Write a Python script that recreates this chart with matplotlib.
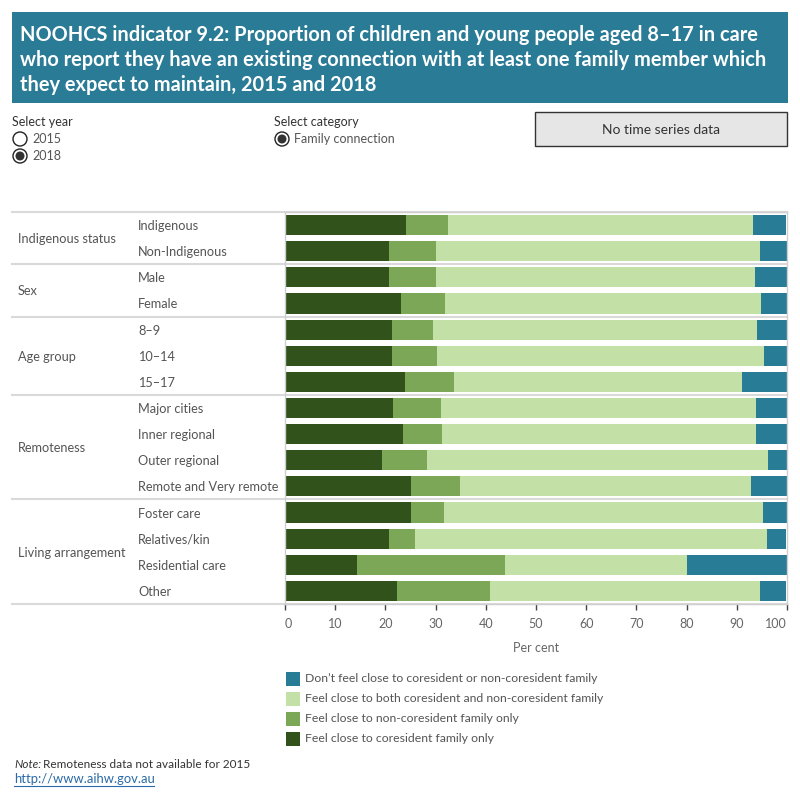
import matplotlib
matplotlib.use("Agg")
import matplotlib.pyplot as plt
from matplotlib.patches import Rectangle, Circle
import numpy as np

plt.rcParams['font.family'] = ['Lato', 'DejaVu Sans']

# data (2018, per cent)
groups = ['Indigenous status', 'Sex', 'Age group', 'Remoteness', 'Living arrangement']
group_sizes = [2, 2, 3, 4, 4]
subgroups = ['Indigenous', 'Non-Indigenous', 'Male', 'Female', '8–9', '10–14', '15–17',
             'Major cities', 'Inner regional', 'Outer regional', 'Remote and Very remote',
             'Foster care', 'Relatives/kin', 'Residential care', 'Other']
coresident_only = [24.2, 20.8, 20.8, 23.2, 21.4, 21.4, 23.9, 21.6, 23.6, 19.4, 25.0, 25.0, 20.8, 14.4, 22.4]
noncoresident_only = [8.3, 9.3, 9.3, 8.7, 8.1, 8.9, 9.8, 9.5, 7.7, 8.9, 9.9, 6.7, 5.1, 29.5, 18.5]
both = [60.7, 64.5, 63.5, 62.9, 64.5, 65.1, 57.3, 62.7, 62.5, 67.9, 57.9, 63.5, 70.1, 36.2, 53.7]
not_close = [6.6, 5.4, 6.4, 5.2, 6.0, 4.6, 9.0, 6.2, 6.2, 3.8, 7.2, 4.8, 3.8, 19.9, 5.2]

series = [coresident_only, noncoresident_only, both, not_close]
colors = ['#31521b', '#7ca757', '#c3e1a7', '#287c96']
legend_labels = ["Don\u2019t feel close to coresident or non-coresident family",
                 'Feel close to both coresident and non-coresident family',
                 'Feel close to non-coresident family only',
                 'Feel close to coresident family only']
legend_colors = ['#287c96', '#c3e1a7', '#7ca757', '#31521b']

W = H = 800
fig = plt.figure(figsize=(8, 8), dpi=100)

# background axes in pixel coordinates
bg = fig.add_axes([0, 0, 1, 1])
bg.set_xlim(0, W)
bg.set_ylim(H, 0)
bg.axis('off')

# title band
bg.add_patch(Rectangle((12, 12), 776, 91, facecolor='#2a7b96', edgecolor='none'))
title_lines = ['NOOHCS indicator 9.2: Proportion of children and young people aged 8\u201317 in care',
               'who report they have an existing connection with at least one family member which',
               'they expect to maintain, 2015 and 2018']
for i, line in enumerate(title_lines):
    bg.text(20, 35 + i * 25, line, color='white', fontsize=14.4, fontweight='bold', va='center', ha='left')

# controls
txt = '#333333'
bg.text(12, 122, 'Select year', fontsize=9, color=txt, va='center')
bg.add_patch(Circle((20, 139), 7, facecolor='white', edgecolor='#222222', lw=1))
bg.text(32, 139, '2015', fontsize=9, color='#555555', va='center')
bg.add_patch(Circle((20, 156), 7, facecolor='white', edgecolor='#222222', lw=1))
bg.add_patch(Circle((20, 156), 4.5, facecolor='#333333', edgecolor='none'))
bg.text(32, 156, '2018', fontsize=9, color='#555555', va='center')

bg.text(274, 122, 'Select category', fontsize=9, color=txt, va='center')
bg.add_patch(Circle((282, 139), 7, facecolor='white', edgecolor='#222222', lw=1))
bg.add_patch(Circle((282, 139), 4.5, facecolor='#333333', edgecolor='none'))
bg.text(294, 139, 'Family connection', fontsize=9, color='#555555', va='center')

bg.add_patch(Rectangle((535, 112), 252, 34, facecolor='#e6e6e6', edgecolor='#333333', lw=1))
bg.text(661, 130, 'No time series data', fontsize=10, color=txt, va='center', ha='center')

# main chart area
top, bottom, left, right = 212, 604, 285, 787
n = len(subgroups)
row_h = (bottom - top) / n

ax = fig.add_axes([left / W, 1 - bottom / H, (right - left) / W, (bottom - top) / H])
ax.set_facecolor('none')
y = np.arange(n)
start = np.zeros(n)
for vals, c in zip(series, colors):
    ax.barh(y, vals, left=start, height=0.77, color=c, edgecolor='none')
    start = start + np.array(vals)
ax.set_xlim(0, 100)
ax.set_ylim(n - 0.5, -0.5)
ax.set_yticks([])
ax.set_xticks(range(0, 101, 10))
ax.tick_params(axis='x', length=4, width=1, color='#444444', labelsize=9, labelcolor='#666666', pad=6)
for sp in ax.spines.values():
    sp.set_color('#cfcfcf')
    sp.set_linewidth(1)
labs = ax.get_xticklabels()
labs[0].set_ha('left')
labs[-1].set_ha('right')
ax.set_xlabel('Per cent', fontsize=9, color='#666666', labelpad=9)

# row labels & group separators
row0 = 0
for g, size in zip(groups, group_sizes):
    y_top = top + row0 * row_h
    y_bot = top + (row0 + size) * row_h
    bg.plot([12, right], [y_top, y_top], color='#d9d9d9', lw=1.5)
    bg.text(18, (y_top + y_bot) / 2 + 1, g, fontsize=9.2, color='#555555', va='center', ha='left')
    row0 += size
bg.plot([12, right], [bottom, bottom], color='#d9d9d9', lw=1.5)
for i, s in enumerate(subgroups):
    bg.text(138, top + (i + 0.5) * row_h + 1, s, fontsize=9.2, color='#555555', va='center', ha='left')

# legend
for i, (lab, c) in enumerate(zip(legend_labels, legend_colors)):
    yc = 679 + i * 20
    bg.add_patch(Rectangle((286, yc - 7), 14, 14, facecolor=c, edgecolor='none'))
    bg.text(305, yc, lab, fontsize=8.8, color='#555555', va='center', ha='left')

# footnote
bg.text(14, 764, 'Note:', fontsize=8.5, color='#333333', style='italic', va='center')
bg.text(43, 764, 'Remoteness data not available for 2015', fontsize=8.5, color='#333333', va='center')
bg.text(14, 779, 'http://www.aihw.gov.au', fontsize=9.4, color='#2a6aa8', va='center')
bg.plot([14, 154], [786, 786], color='#2a6aa8', lw=0.8)

fig.savefig('out.png', dpi=100)
